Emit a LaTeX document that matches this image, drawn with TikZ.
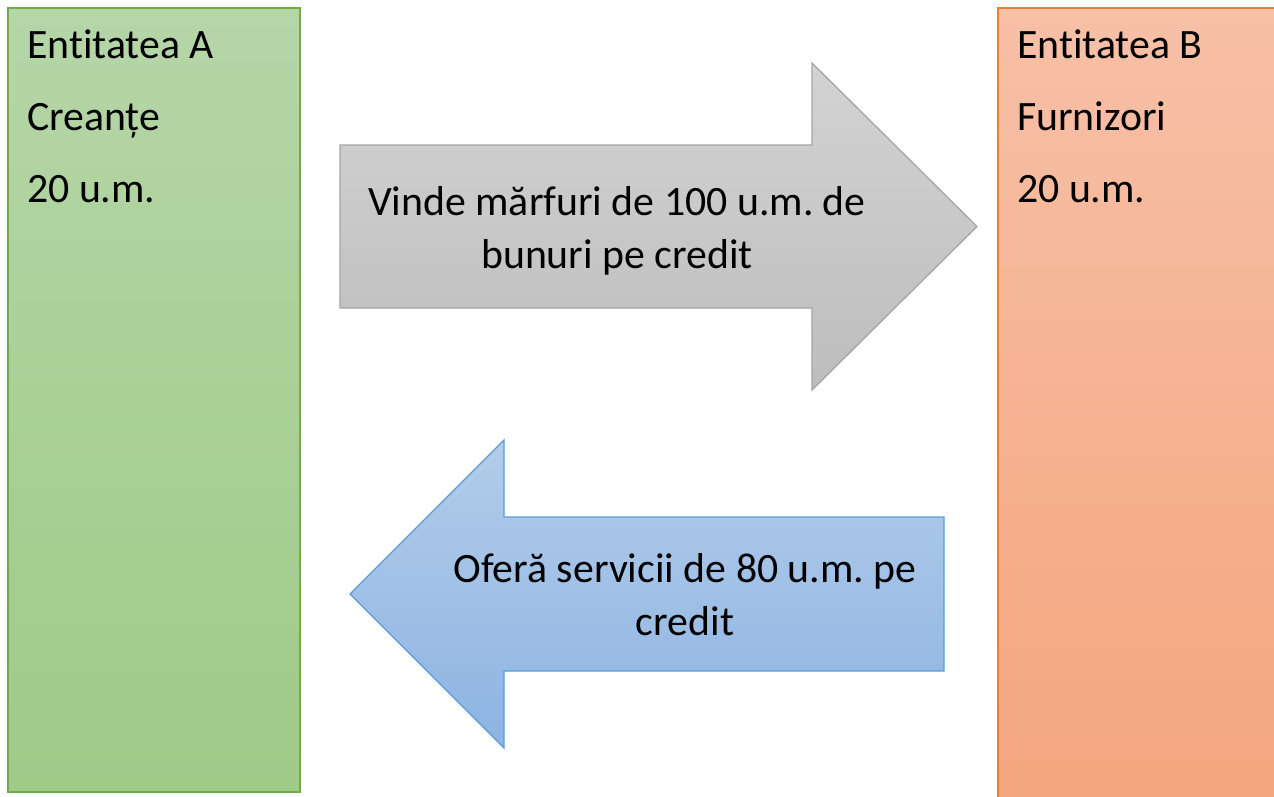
\documentclass[tikz,border=0pt]{standalone}
\usepackage{fontspec}
\setmainfont[Ligatures=NoCommon]{Carlito}
\frenchspacing
\definecolor{greenTop}{HTML}{B5D6A7}
\definecolor{greenBot}{HTML}{9FCA88}
\definecolor{greenLine}{HTML}{70AD47}
\definecolor{orangeTop}{HTML}{F7C0A7}
\definecolor{orangeBot}{HTML}{F4A57D}
\definecolor{orangeLine}{HTML}{ED7D31}
\definecolor{grayTop}{HTML}{D3D3D3}
\definecolor{grayBot}{HTML}{BDBDBD}
\definecolor{grayLine}{HTML}{A5A5A5}
\definecolor{blueTop}{HTML}{B3CDEA}
\definecolor{blueBot}{HTML}{8DB3E2}
\definecolor{blueLine}{HTML}{5B9BD5}
\tikzset{
  boxtext/.style={anchor=base west, inner sep=0pt, font=\fontsize{41.8}{50}\selectfont},
  arrowtext/.style={anchor=base, inner sep=0pt, font=\fontsize{41.8}{50}\selectfont},
  shapeline/.style={line width=1.3pt, line join=miter},
}
\begin{document}
\begin{tikzpicture}[x=1pt,y=-1pt]
\useasboundingbox (0,0) rectangle (1274,796);
% Entity boxes
\path[shapeline, draw=greenLine, top color=greenTop, bottom color=greenBot]
  (8,8) rectangle (300,792);
\path[shapeline, draw=orangeLine, top color=orangeTop, bottom color=orangeBot]
  (998,8) rectangle (1290,810);
% Right arrow (gray)
\path[shapeline, draw=grayLine, top color=grayTop, bottom color=grayBot]
  (340,145) -- (812,145) -- (812,63) -- (977,226.5) -- (812,390) -- (812,308) -- (340,308) -- cycle;
% Left arrow (blue)
\path[shapeline, draw=blueLine, top color=blueTop, bottom color=blueBot]
  (350,594) -- (504,440) -- (504,517) -- (944,517) -- (944,671) -- (504,671) -- (504,748) -- cycle;
% Texts
\node[boxtext] (a1) at (27,58) {Entitatea A};
\node[boxtext] (a2) at (27,130) {Creanțe};
\node[boxtext] (a3) at (27,202) {20 u.m.};
\node[boxtext] (b1) at (1017,58) {Entitatea B};
\node[boxtext] (b2) at (1017,130) {Furnizori};
\node[boxtext] (b3) at (1017,202) {20 u.m.};
\node[arrowtext] (g1) at (617,215) {Vinde mărfuri de 100 u.m. de};
\node[arrowtext] (g2) at (617,268) {bunuri pe credit};
\node[arrowtext] (l1) at (685,582) {Oferă servicii de 80 u.m. pe};
\node[arrowtext] (l2) at (685,635) {credit};
\end{tikzpicture}
\end{document}
